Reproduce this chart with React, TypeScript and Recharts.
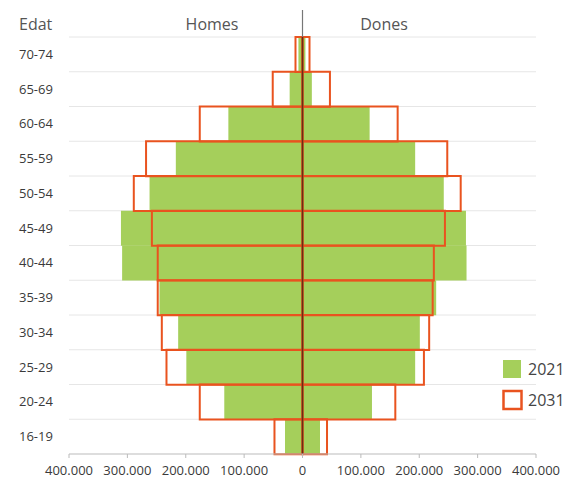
import React from 'react';
import { BarChart, Bar, XAxis, YAxis, CartesianGrid, ReferenceLine } from 'recharts';

// age groups, top to bottom
const ages = ['70-74', '65-69', '60-64', '55-59', '50-54', '45-49', '40-44', '35-39', '30-34', '25-29', '20-24', '16-19'];
const men2021 = [7000, 22000, 127000, 217000, 262000, 311000, 309000, 245000, 213000, 199000, 134000, 30000];
const women2021 = [5000, 16000, 115000, 193000, 242000, 280000, 281000, 229000, 201000, 193000, 119000, 30000];
const men2031 = [12000, 51000, 176000, 268000, 289000, 258000, 248000, 248000, 241000, 233000, 176000, 48000];
const women2031 = [12000, 47000, 163000, 248000, 271000, 244000, 225000, 223000, 217000, 208000, 159000, 42000];
const xTicks = [-400000, -300000, -200000, -100000, 0, 100000, 200000, 300000, 400000];

const GREEN = '#a5cf5b';
const ORANGE = '#e9531f';
const W = 564;
const H = 480;

const data = ages.map((age, i) => ({
  age,
  m21: -men2021[i],
  w21: women2021[i],
  m31: -men2031[i],
  w31: women2031[i],
}));

const fmt = (v: number) => Math.abs(v).toString().replace(/\B(?=(\d{3})+(?!\d))/g, '.');

const AgeTick = (props: any) => {
  const { y, payload } = props;
  return (
    <text x={19} y={y} dy={4.5} fill="#3a3a3a" fontSize={13}>
      {payload.value}
    </text>
  );
};

const CenterLine = (props: any) => {
  const x = props.x1;
  const top = Math.min(props.y1, props.y2);
  const bottom = Math.max(props.y1, props.y2);
  return (
    <g>
      <line x1={x} x2={x} y1={top - 27} y2={top} stroke="#777" strokeWidth={1.2} />
      <line x1={x} x2={x} y1={top} y2={bottom} stroke="#6b2d14" strokeWidth={1.6} />
    </g>
  );
};

export default function App() {
  return (
    <div style={{ position: 'absolute', left: 0, top: 0, width: W, height: H, background: '#fff', fontFamily: '"Open Sans", sans-serif' }}>
      <BarChart
        width={W}
        height={H}
        data={data}
        layout="vertical"
        stackOffset="sign"
        barCategoryGap={0}
        margin={{ top: 37, right: 28, bottom: 0, left: 0 }}
      >
        <CartesianGrid
          yAxisId="a"
          vertical={false}
          stroke="#e6e6e6"
          horizontalCoordinatesGenerator={({ offset }: any) =>
            ages.map((_, i) => offset.top + (i * offset.height) / ages.length)
          }
        />
        <XAxis
          type="number"
          domain={[-400000, 400000]}
          ticks={xTicks}
          interval={0}
          tickFormatter={fmt}
          axisLine={{ stroke: '#bbb' }}
          tickLine={{ stroke: '#bbb' }}
          tickSize={4}
          tickMargin={8}
          height={26}
          tick={{ fill: '#3a3a3a', fontSize: 13 }}
        />
        <YAxis yAxisId="a" type="category" dataKey="age" width={69} axisLine={false} tickLine={false} interval={0} tick={<AgeTick />} />
        <YAxis yAxisId="b" type="category" dataKey="age" hide />
        <Bar yAxisId="a" dataKey="m21" stackId="y21" fill={GREEN} isAnimationActive={false} />
        <Bar yAxisId="a" dataKey="w21" stackId="y21" fill={GREEN} isAnimationActive={false} />
        <Bar yAxisId="b" dataKey="m31" stackId="y31" fill="none" stroke={ORANGE} strokeWidth={2} isAnimationActive={false} />
        <Bar yAxisId="b" dataKey="w31" stackId="y31" fill="none" stroke={ORANGE} strokeWidth={2} isAnimationActive={false} />
        <ReferenceLine yAxisId="a" x={0} shape={CenterLine} />
      </BarChart>
      <svg width={W} height={H} style={{ position: 'absolute', left: 0, top: 0, pointerEvents: 'none' }}>
        <g fontSize={16} fill="#555">
          <text x={19} y={30}>Edat</text>
          <text x={212} y={30} textAnchor="middle">Homes</text>
          <text x={384} y={30} textAnchor="middle">Dones</text>
        </g>
        <rect x={503} y={360} width={18} height={18} fill={GREEN} />
        <rect x={503.5} y={391} width={18} height={18} fill="#fff" stroke={ORANGE} strokeWidth={2.5} />
        <g fontSize={16} fill="#444">
          <text x={528} y={375}>2021</text>
          <text x={528} y={406}>2031</text>
        </g>
      </svg>
    </div>
  );
}
